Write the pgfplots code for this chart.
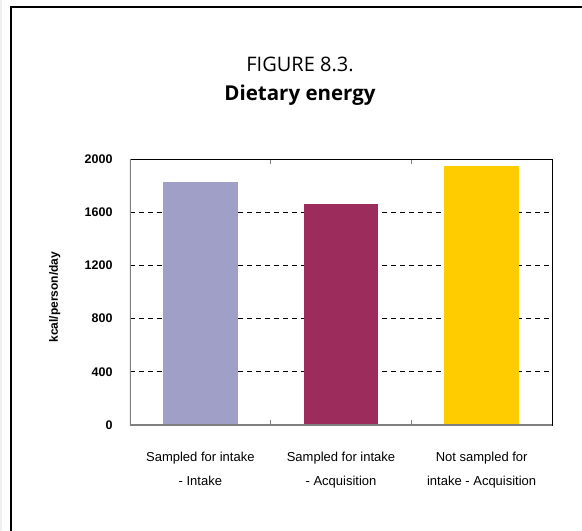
\documentclass[border=0pt]{standalone}
\usepackage{fontspec}
\setmainfont{Liberation Sans}
\newfontfamily\titlefont{Open Sans}
\usepackage{pgfplots}
\pgfplotsset{compat=1.18}
\definecolor{barA}{HTML}{A09FC8}
\definecolor{barB}{HTML}{9B2C5B}
\definecolor{barC}{HTML}{FFCC00}
\definecolor{axgray}{HTML}{808080}
\begin{document}
\begin{tikzpicture}
\path[use as bounding box] (0pt,0pt) rectangle (582pt,531pt);
\fill[gray!12] (0pt,0pt) rectangle (2pt,531pt);
\draw[line width=1.6pt] (11pt,0pt) -- (11pt,524pt) -- (582pt,524pt);
\node[anchor=base, font=\titlefont\fontsize{20}{22}\selectfont] at (300pt,459pt) {FIGURE 8.3.};
\node[anchor=base, font=\titlefont\bfseries\fontsize{20.5}{22}\selectfont] at (300pt,430pt) {Dietary energy};
\begin{axis}[
  at={(130pt,106pt)}, anchor=south west,
  scale only axis, width=422pt, height=266pt,
  xmin=-0.5, xmax=2.5, ymin=0, ymax=2000,
  ybar, bar width=0.53,
  xtick={0,1,2},
  xticklabels={{Sampled for intake\\- Intake},{Sampled for intake\\- Acquisition},{Not sampled for\\intake - Acquisition}},
  xticklabel style={align=center, font=\fontsize{13}{24}\selectfont, yshift=-24pt},
  minor xtick={0.5,1.5},
  x tick style={draw=axgray, line width=1pt},
  major x tick style={draw=none},
  minor tick length=5pt,
  tick align=inside,
  ytick={0,400,...,2000},
  y tick style={draw=none},
  yticklabel style={font=\bfseries\fontsize{12.5}{14}\selectfont, xshift=-14pt},
  /pgf/number format/assume math mode=true,
  /pgf/number format/1000 sep={},
  ymajorgrids,
  grid style={black, dash pattern=on 5pt off 4pt, line width=0.8pt},
  axis line style={black, line width=0.8pt},
  ylabel={kcal/person/day},
  ylabel style={at={(axis description cs:-0.178,0.481)}, anchor=center, font=\bfseries\fontsize{12}{14}\selectfont},
]
\addplot[fill=barA, draw=none, bar shift=0pt] coordinates {(0,1830)};
\addplot[fill=barB, draw=none, bar shift=0pt] coordinates {(1,1660)};
\addplot[fill=barC, draw=none, bar shift=0pt] coordinates {(2,1950)};
\draw[axgray, line width=1.6pt] (rel axis cs:0,1) -- (rel axis cs:0,0) -- (rel axis cs:1,0);
\end{axis}
\end{tikzpicture}
\end{document}
